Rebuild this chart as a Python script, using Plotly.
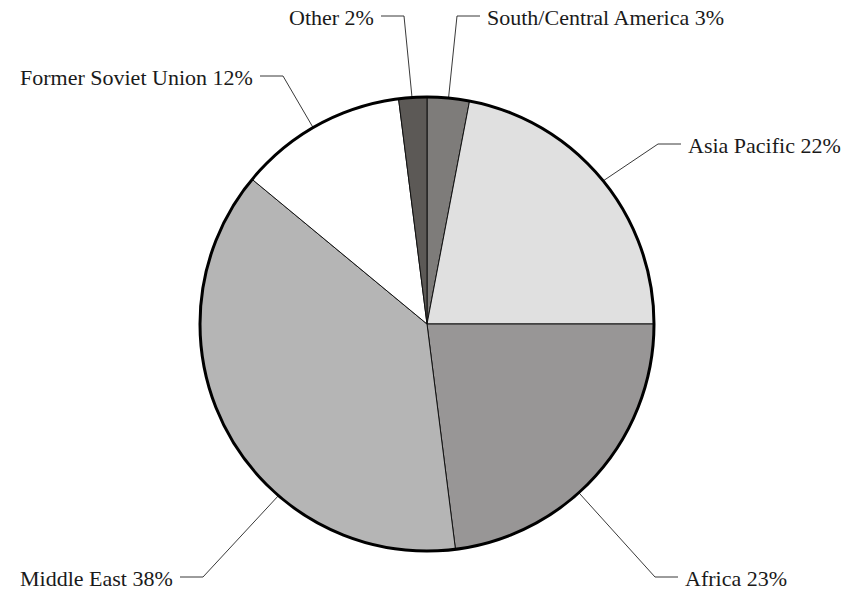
import math
import plotly.graph_objects as go

# Share of proved reserves by region (percent), clockwise from 12 o'clock
regions = ["South/Central America", "Asia Pacific", "Africa", "Middle East",
           "Former Soviet Union", "Other"]
shares = [3, 22, 23, 38, 12, 2]
colors = ["#7e7c7a", "#e0e0e0", "#989696", "#b5b5b5", "#ffffff", "#5c5956"]

# Label layout: where each leader line bends, which side the text sits on,
# and how far along its slice (0..1) the leader line starts
elbows = {
    "South/Central America": (457, 16, "right", 0.5),
    "Asia Pacific": (658, 144, "right", 0.5),
    "Africa": (655, 577, "right", 0.58),
    "Middle East": (203, 577, "left", 0.35),
    "Former Soviet Union": (283, 76, "left", 0.47),
    "Other": (404, 16, "left", 0.5),
}

W, H = 848, 595
CX, CY, R = 427, 324, 227
TICK = 23      # length of the horizontal leader segment
ANCHOR_R = 0.91

fig = go.Figure()

fig.add_trace(go.Pie(
    labels=regions,
    values=shares,
    sort=False,
    direction="clockwise",
    rotation=0,
    marker=dict(colors=colors, line=dict(color="#111111", width=1)),
    textinfo="none",
    hoverinfo="skip",
    showlegend=False,
    domain=dict(x=[(CX - R) / W, (CX + R) / W],
                y=[(H - CY - R) / H, (H - CY + R) / H]),
))

# Thick outer rim of the pie
fig.add_shape(type="circle", xref="x", yref="y",
              x0=CX - R, x1=CX + R, y0=CY - R, y1=CY + R,
              line=dict(color="#000000", width=3))

total = sum(shares)
start = 0.0
for name, val in zip(regions, shares):
    span = val / total * 360
    ex, ey, side, frac = elbows[name]
    ang = math.radians(start + frac * span)
    ax = CX + ANCHOR_R * R * math.sin(ang)
    ay = CY - ANCHOR_R * R * math.cos(ang)

    # where the segment from the anchor to the elbow crosses the rim
    dx, dy = ex - ax, ey - ay
    fx, fy = ax - CX, ay - CY
    qa = dx * dx + dy * dy
    qb = 2 * (fx * dx + fy * dy)
    qc = fx * fx + fy * fy - R * R
    s = (-qb + math.sqrt(qb * qb - 4 * qa * qc)) / (2 * qa)
    rx, ry = ax + s * dx, ay + s * dy

    hx = ex + TICK if side == "right" else ex - TICK

    # cased leader inside the pie
    fig.add_trace(go.Scatter(x=[ax, rx], y=[ay, ry], mode="lines",
                             line=dict(color="#222222", width=2.4),
                             hoverinfo="skip", showlegend=False))
    fig.add_trace(go.Scatter(x=[ax, rx], y=[ay, ry], mode="lines",
                             line=dict(color="#ffffff", width=1.1),
                             hoverinfo="skip", showlegend=False))
    # leader outside the pie
    fig.add_trace(go.Scatter(x=[rx, ex, hx], y=[ry, ey, ey], mode="lines",
                             line=dict(color="#222222", width=0.9),
                             hoverinfo="skip", showlegend=False))

    fig.add_annotation(
        x=hx + (5 if side == "right" else -5), y=ey + 1,
        xref="x", yref="y",
        text=f"{name} {val}%",
        showarrow=False,
        xanchor="left" if side == "right" else "right",
        yanchor="middle",
        font=dict(family="Liberation Serif", size=22, color="#1a1a1a"),
    )
    start += span

fig.update_layout(
    width=W, height=H,
    margin=dict(l=0, r=0, t=0, b=0),
    paper_bgcolor="white", plot_bgcolor="rgba(0,0,0,0)",
    xaxis=dict(range=[0, W], visible=False, fixedrange=True, domain=[0, 1]),
    yaxis=dict(range=[H, 0], visible=False, fixedrange=True, domain=[0, 1]),
)

fig.write_html("out.html")
